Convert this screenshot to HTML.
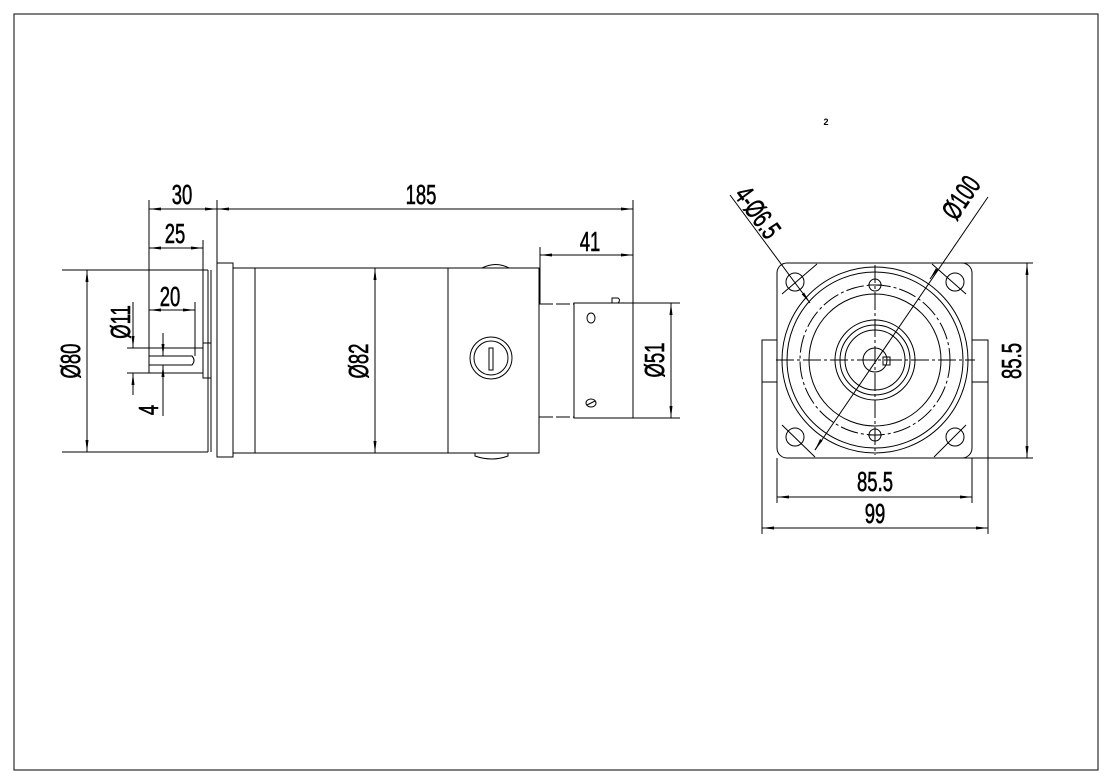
<!DOCTYPE html>
<html><head><meta charset="utf-8"><style>
html,body{margin:0;padding:0;background:#fff;}
svg{display:block;}
text{font-family:"Liberation Sans",sans-serif;font-size:28px;fill:#000;stroke:#000;stroke-width:0.6;}
</style></head><body>
<svg width="1112" height="784" viewBox="0 0 1112 784" xmlns="http://www.w3.org/2000/svg">
<defs>
<marker id="a" viewBox="0 0 12 6" refX="12" refY="3" markerWidth="12" markerHeight="6" orient="auto-start-reverse" markerUnits="userSpaceOnUse"><path d="M0,1.5 L12,3 L0,4.5 z" fill="#000"/></marker>
</defs>
<rect x="14" y="14" width="1084" height="756" fill="none" stroke="#000" stroke-width="1"/>
<g fill="none" stroke="#000" stroke-width="1">
<rect x="217" y="263" width="16" height="194"/>
<line x1="208" y1="270" x2="208" y2="452"/><line x1="211" y1="270" x2="211" y2="452"/>
<line x1="233" y1="268" x2="448" y2="268"/><line x1="233" y1="453" x2="448" y2="453"/>
<line x1="255" y1="268" x2="255" y2="453"/>
<rect x="448" y="268" width="91" height="185"/>
<path d="M482,268 Q496,261 509,268"/><path d="M475,453 L475,456 Q492,462 508,456 L508,453"/>
<circle cx="491" cy="358" r="21"/><circle cx="491" cy="358" r="17"/>
<rect x="489" y="348" width="4" height="22"/>
<line x1="539" y1="304" x2="574" y2="304" stroke-dasharray="14 3"/><line x1="539" y1="417" x2="574" y2="417" stroke-dasharray="14 3"/>
<rect x="574" y="303" width="59" height="115"/>
<line x1="633" y1="303" x2="680" y2="303"/><line x1="633" y1="418" x2="680" y2="418"/>
<ellipse cx="591" cy="318" rx="4" ry="5"/><ellipse cx="591" cy="403" rx="5" ry="4"/>
<line x1="587" y1="405" x2="595" y2="401"/>
<path d="M612,303 L612,298 L618,298 Q621,300 618,303"/>
<rect x="149" y="348" width="54" height="25"/>
<rect x="203" y="343" width="8" height="35"/>
<path d="M149,356 L192,356 Q196,360.5 192,365 L149,365"/>
<line x1="62" y1="270" x2="208" y2="270"/><line x1="62" y1="452" x2="208" y2="452"/>
<line x1="87" y1="270" x2="87" y2="452" marker-start="url(#a)" marker-end="url(#a)"/>
<line x1="149" y1="200" x2="149" y2="348"/>
<line x1="217" y1="200" x2="217" y2="263"/>
<line x1="149" y1="209" x2="217" y2="209" marker-start="url(#a)" marker-end="url(#a)"/>
<line x1="217" y1="209" x2="633" y2="209" marker-start="url(#a)" marker-end="url(#a)"/>
<line x1="633" y1="200" x2="633" y2="303"/>
<line x1="203" y1="240" x2="203" y2="343"/>
<line x1="149" y1="248" x2="203" y2="248" marker-start="url(#a)" marker-end="url(#a)"/>
<line x1="195" y1="302" x2="195" y2="356"/>
<line x1="149" y1="310" x2="195" y2="310" marker-start="url(#a)" marker-end="url(#a)"/>
<line x1="127" y1="348" x2="149" y2="348"/><line x1="127" y1="373" x2="149" y2="373"/>
<line x1="133" y1="302" x2="133" y2="348" marker-end="url(#a)"/>
<line x1="133" y1="373" x2="133" y2="395" marker-start="url(#a)"/>
<line x1="163" y1="333" x2="163" y2="356" marker-end="url(#a)"/>
<line x1="163" y1="365" x2="163" y2="416" marker-start="url(#a)"/>
<line x1="375" y1="268" x2="375" y2="453" marker-start="url(#a)" marker-end="url(#a)"/>
<line x1="540" y1="247" x2="540" y2="304"/>
<line x1="540" y1="255" x2="633" y2="255" marker-start="url(#a)" marker-end="url(#a)"/>
<line x1="671" y1="303" x2="671" y2="418" marker-start="url(#a)" marker-end="url(#a)"/>

<rect x="777" y="263" width="195" height="195" rx="10"/>
<rect x="762" y="340" width="15" height="42"/><rect x="972" y="340" width="16" height="42"/>
<circle cx="875" cy="360" r="93"/><circle cx="875" cy="360" r="88"/>
<circle cx="875" cy="360" r="75" stroke-dasharray="18 3 3 3"/>
<circle cx="875" cy="360" r="66"/>
<circle cx="875" cy="360" r="40"/><circle cx="875" cy="360" r="35"/><circle cx="875" cy="360" r="30"/>
<circle cx="875" cy="360" r="12"/>
<rect x="883" y="357" width="7" height="8"/>
<circle cx="795" cy="282" r="9"/><circle cx="955" cy="282" r="9"/><circle cx="795" cy="437" r="9"/><circle cx="955" cy="437" r="9"/>
<circle cx="875" cy="285" r="6"/><circle cx="875" cy="435" r="6"/>
<line x1="782" y1="294" x2="817" y2="264"/><line x1="932" y1="264" x2="966" y2="294"/>
<line x1="782" y1="425" x2="815" y2="457"/><line x1="934" y1="457" x2="966" y2="425"/>
<line x1="875" y1="265" x2="875" y2="455" stroke-dasharray="18 3 3 3"/>
<line x1="776" y1="360" x2="975" y2="360" stroke-dasharray="18 3 3 3"/>
<line x1="868" y1="285" x2="882" y2="285"/><line x1="868" y1="435" x2="882" y2="435"/>
<line x1="730" y1="195" x2="810" y2="303" marker-end="url(#a)"/>
<line x1="988" y1="197" x2="815" y2="450" />
<line x1="935" y1="272" x2="930" y2="279" marker-end="url(#a)"/>
<line x1="820" y1="442" x2="815" y2="450" marker-end="url(#a)"/>
<line x1="777" y1="458" x2="777" y2="503"/><line x1="972" y1="458" x2="972" y2="503"/>
<line x1="777" y1="497" x2="972" y2="497" marker-start="url(#a)" marker-end="url(#a)"/>
<line x1="762" y1="382" x2="762" y2="534"/><line x1="988" y1="382" x2="988" y2="534"/>
<line x1="762" y1="528" x2="988" y2="528" marker-start="url(#a)" marker-end="url(#a)"/>
<line x1="945" y1="263" x2="1033" y2="263"/><line x1="945" y1="458" x2="1033" y2="458"/>
<line x1="1027" y1="263" x2="1027" y2="458" marker-start="url(#a)" marker-end="url(#a)"/>
</g>
<g text-anchor="middle">
<text transform="translate(182,204) scale(0.66,1)">30</text>
<text transform="translate(175,243) scale(0.66,1)">25</text>
<text transform="translate(170,306) scale(0.66,1)">20</text>
<text transform="translate(421,204) scale(0.66,1)">185</text>
<text transform="translate(590,251) scale(0.66,1)">41</text>
<text transform="translate(80,361) rotate(-90) scale(0.66,1)">Ø80</text>
<text transform="translate(130,322) rotate(-90) scale(0.66,1)">Ø11</text>
<text transform="translate(158,410) rotate(-90) scale(0.66,1)">4</text>
<text transform="translate(368,361) rotate(-90) scale(0.66,1)">Ø82</text>
<text transform="translate(664,360) rotate(-90) scale(0.66,1)">Ø51</text>
<text transform="translate(875,491) scale(0.66,1)">85.5</text>
<text transform="translate(875,523) scale(0.66,1)">99</text>
<text transform="translate(1021,361) rotate(-90) scale(0.66,1)">85.5</text>
<text transform="translate(750,218) rotate(54) scale(0.66,1)">4-Ø6.5</text>
<text transform="translate(969,203) rotate(-56) scale(0.66,1)">Ø100</text>
<text x="826" y="125" style="font-size:9px;font-weight:bold;stroke-width:0">2</text>
</g>
</svg>
</body></html>
